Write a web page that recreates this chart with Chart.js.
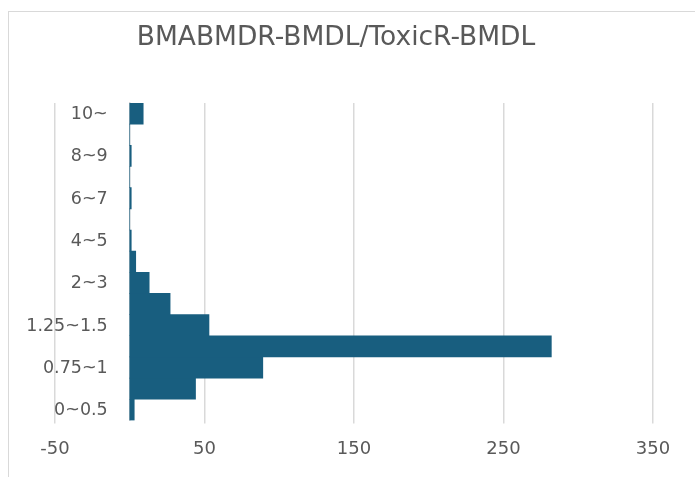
<!DOCTYPE html>
<html>
<head>
<meta charset="utf-8">
<script src="https://cdn.jsdelivr.net/npm/chart.js@4/dist/chart.umd.min.js"></script>
<style>
  html, body { margin: 0; padding: 0; background: #ffffff; }
  #wrap { position: relative; width: 695px; height: 477px; overflow: hidden; }
  #frame {
    position: absolute; left: 8px; top: 11px; width: 720px; height: 500px;
    border: 1.5px solid #d9d9d9; pointer-events: none;
  }
  canvas { position: absolute; left: 0; top: 0; }
</style>
</head>
<body>
<div id="wrap">
  <canvas id="chart" width="695" height="477"></canvas>
  <div id="frame"></div>
</div>
<script>
// Ratio bins, bottom to top
const categories = ['0~0.5', '0.5~0.75', '0.75~1', '1~1.25', '1.25~1.5', '1.5~2', '2~3', '3~4',
                    '4~5', '5~6', '6~7', '7~8', '8~9', '9~10', '10~'];
// Count of results in each bin
const counts = [3, 44, 89, 282, 53, 27, 13, 4, 1, 0, 1, 0, 1, 0, 9];
// Every other bin is labelled
const shownLabels = ['0~0.5', '0.75~1', '1.25~1.5', '2~3', '4~5', '6~7', '8~9', '10~'];
// Value axis ticks
const xTicks = [-50, 50, 150, 250, 350];

const chartTitle = 'BMABMDR-BMDL/ToxicR-BMDL';
const textColor = '#595959';
const gridColor = '#d9d9d9';

const titlePlugin = {
  id: 'centredTitle',
  afterDraw(chart) {
    const ctx = chart.ctx;
    ctx.save();
    ctx.font = '26.5px "DejaVu Sans"';
    ctx.fillStyle = textColor;
    ctx.textAlign = 'center';
    ctx.textBaseline = 'alphabetic';
    ctx.fillText(chartTitle, 336, 45);
    ctx.restore();
  }
};

// Category labels sit just left of the zero line, inside the plot
const binLabelPlugin = {
  id: 'binLabels',
  afterDraw(chart) {
    const ctx = chart.ctx;
    const xs = chart.scales.x, ys = chart.scales.y;
    const x0 = xs.getPixelForValue(0) - 22;
    ctx.save();
    ctx.font = '17.5px "DejaVu Sans"';
    ctx.fillStyle = textColor;
    ctx.textAlign = 'right';
    ctx.textBaseline = 'middle';
    categories.forEach((c, i) => {
      if (shownLabels.includes(c)) {
        ctx.fillText(c, x0, ys.getPixelForValue(i) + 1);
      }
    });
    ctx.restore();
  }
};

new Chart(document.getElementById('chart'), {
  type: 'bar',
  data: {
    labels: categories,
    datasets: [{
      data: counts,
      backgroundColor: '#185e7f',
      borderWidth: 0,
      barPercentage: 1,
      categoryPercentage: 1
    }]
  },
  options: {
    indexAxis: 'y',
    responsive: false,
    animation: false,
    devicePixelRatio: 1,
    layout: { padding: { left: 55, right: 42, top: 103, bottom: 2 } },
    plugins: { legend: { display: false }, tooltip: { enabled: false }, title: { display: false } },
    scales: {
      x: {
        type: 'linear',
        min: -50,
        max: 350,
        afterBuildTicks(scale) { scale.ticks = xTicks.map(v => ({ value: v })); },
        grid: { color: gridColor, lineWidth: 1.5, drawTicks: true, tickLength: 3, tickColor: gridColor },
        border: { display: false },
        ticks: {
          color: textColor,
          font: { family: 'DejaVu Sans', size: 18 },
          padding: 15,
          maxRotation: 0,
          autoSkip: false
        }
      },
      y: {
        type: 'category',
        reverse: true,
        position: { x: 0 },
        grid: { display: false, drawTicks: false },
        border: { display: true, color: gridColor, width: 1.5 },
        ticks: { display: false }
      }
    }
  },
  plugins: [titlePlugin, binLabelPlugin]
});
</script>
</body>
</html>
